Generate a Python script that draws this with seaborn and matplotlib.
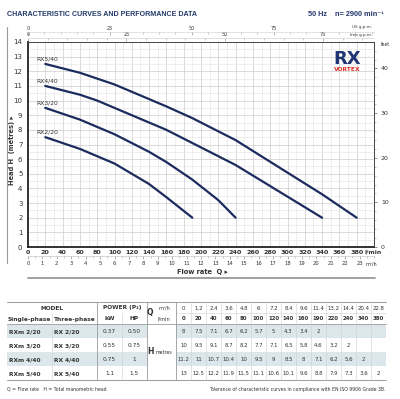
import numpy as np
import pandas as pd
import matplotlib
matplotlib.use("Agg")
import matplotlib.pyplot as plt
import seaborn as sns
from matplotlib.patches import Rectangle
from matplotlib.ticker import MultipleLocator, FixedLocator

# ---------------- data ----------------
q_lmin = [0, 20, 40, 60, 80, 100, 120, 140, 160, 190, 220, 240, 340, 380]
q_m3h = ["0", "1.2", "2.4", "3.6", "4.8", "6", "7.2", "8.4", "9.6", "11.4", "13.2", "14.4", "20.4", "22.8"]
models_single = ["RXm 2/20", "RXm 3/20", "RXm 4/40", "RXm 5/40"]
models_three = ["RX 2/20", "RX 3/20", "RX 4/40", "RX 5/40"]
curve_labels = ["RX2/20", "RX3/20", "RX4/40", "RX5/40"]
power_kw = ["0.37", "0.55", "0.75", "1.1"]
power_hp = ["0.50", "0.75", "1", "1.5"]
head_rx2_20 = [8, 7.5, 7.1, 6.7, 6.2, 5.7, 5, 4.3, 3.4, 2]
head_rx3_20 = [10, 9.5, 9.1, 8.7, 8.2, 7.7, 7.1, 6.5, 5.8, 4.6, 3.2, 2]
head_rx4_40 = [11.2, 11, 10.7, 10.4, 10, 9.5, 9, 8.5, 8, 7.1, 6.2, 5.6, 2]
head_rx5_40 = [13, 12.5, 12.2, 11.9, 11.5, 11.1, 10.6, 10.1, 9.6, 8.8, 7.9, 7.3, 3.6, 2]
heads = [head_rx2_20, head_rx3_20, head_rx4_40, head_rx5_40]
lmin_ticks = [0, 20, 40, 60, 80, 100, 120, 140, 160, 180, 200, 220, 240, 260, 280, 300, 320, 340, 360, 380]

rows = []
for lab, h in zip(curve_labels, heads):
    for q, v in zip(q_lmin[1:len(h)], h[1:]):
        rows.append({"model": lab, "Q": q, "H": v})
df = pd.DataFrame(rows)

# ---------------- style ----------------
sns.set_style("white")
plt.rcParams["font.family"] = ["DejaVu Sans"]
NAVY = "#1c2b5e"
TXT = "#333333"
GRID = "#cccccc"
GRIDM = "#e4e4e4"
NARROW = ["Liberation Sans Narrow", "Liberation Sans", "DejaVu Sans"]

W, H = 400, 399
fig = plt.figure(figsize=(W / 100, H / 100), dpi=100)

def fbox(x0, y0, x1, y1):
    return [x0 / W, 1 - y1 / H, (x1 - x0) / W, (y1 - y0) / H]

# overlay axes in pixel coords (drawn on top, no background)
ov = fig.add_axes([0, 0, 1, 1], zorder=5)
ov.set_xlim(0, W)
ov.set_ylim(H, 0)
ov.axis("off")

ax = fig.add_axes(fbox(28, 42, 374, 247), zorder=2)
ax.set_facecolor("white")
sns.lineplot(data=df, x="Q", y="H", hue="model", palette=[NAVY] * 4,
             estimator=None, sort=False, lw=1.6, legend=False, ax=ax)
ax.set_xlim(0, 400)
ax.set_ylim(0, 14)
ax.set_xlabel("")
ax.set_ylabel("")
ax.xaxis.set_major_locator(FixedLocator(lmin_ticks))
ax.xaxis.set_minor_locator(MultipleLocator(10))
ax.yaxis.set_major_locator(MultipleLocator(1))
ax.yaxis.set_minor_locator(MultipleLocator(0.5))
ax.grid(True, which="major", color=GRID, lw=0.5)
ax.grid(True, which="minor", color=GRIDM, lw=0.4)
ax.set_axisbelow(True)
ax.tick_params(axis="x", which="both", length=0, pad=2, labelsize=4.6, labelcolor=TXT)
ax.tick_params(axis="y", which="both", length=0, pad=4, labelsize=5, labelcolor=TXT)
for t in ax.get_xticklabels():
    t.set_fontweight("bold")
for s in ["left", "bottom"]:
    ax.spines[s].set_color("#222222")
    ax.spines[s].set_linewidth(1.3)
for s in ["top", "right"]:
    ax.spines[s].set_color("#444444")
    ax.spines[s].set_linewidth(0.7)

for lab, h in zip(curve_labels, heads):
    ax.text(10, h[1] + 0.35, lab, fontsize=4.3, color=TXT, ha="left", va="center")

# right feet axis
ax2 = ax.twinx()
ax2.set_ylim(0, 14 * 3.28084)
ax2.yaxis.set_major_locator(FixedLocator([0, 10, 20, 30, 40]))
ax2.yaxis.set_minor_locator(MultipleLocator(2))
ax2.tick_params(axis="y", which="major", length=2, width=0.5, color="#666", pad=3, labelsize=4.5, labelcolor=TXT)
ax2.tick_params(axis="y", which="minor", length=1.2, width=0.4, color="#888")
for s in ax2.spines.values():
    s.set_visible(False)
ov.text(381, 44, "feet", fontsize=3.3, color=TXT, ha="left", va="center")

# bottom m3/h axis
sec = ax.secondary_xaxis(-9 / 205, functions=(lambda q: q * 0.06, lambda m: m / 0.06))
sec.xaxis.set_major_locator(FixedLocator(list(range(0, 24))))
sec.xaxis.set_minor_locator(MultipleLocator(0.5))
sec.tick_params(axis="x", which="major", length=2, width=0.4, color="#777", pad=1.5, labelsize=3.8, labelcolor=TXT)
sec.tick_params(axis="x", which="minor", length=1.2, width=0.4, color="#999")
sec.spines["bottom"].set_color("#bbbbbb")
sec.spines["bottom"].set_linewidth(0.4)
ov.text(364.5, 252.5, "l/min", fontsize=4.3, fontweight="bold", color=TXT, ha="left", va="center")
ov.text(366, 264, "m³/h", fontsize=3.5, color=TXT, ha="left", va="center")

# top gpm axes
imp = ax.secondary_xaxis(1 + 4 / 205, functions=(lambda l: l / 4.54609, lambda g: g * 4.54609))
us = ax.secondary_xaxis(1 + 10 / 205, functions=(lambda l: l / 3.78541, lambda g: g * 3.78541))
for sa in (imp, us):
    sa.xaxis.set_major_locator(FixedLocator([0, 25, 50, 75]))
    sa.xaxis.set_minor_locator(MultipleLocator(5))
    sa.tick_params(axis="x", which="major", direction="in", length=2, width=0.4, color="#777", pad=1, labelsize=3.5, labelcolor=TXT)
    sa.tick_params(axis="x", which="minor", direction="in", length=1.4, width=0.4, color="#999")
    sa.spines["top"].set_color("#cccccc")
    sa.spines["top"].set_linewidth(0.4)
ov.text(372, 27, "US g.p.m.", fontsize=3, color=TXT, ha="right", va="center")
ov.text(372, 35, "Imp g.p.m.", fontsize=3, color=TXT, ha="right", va="center")

# titles and decorations
ov.text(7, 14.5, "CHARACTERISTIC CURVES AND PERFORMANCE DATA", fontsize=5.1, fontweight="bold",
        color="#24396b", ha="left", va="center", family=NARROW)
ov.text(384, 14.5, "50 Hz    n= 2900 min⁻¹", fontsize=5.3, fontweight="bold",
        color="#24396b", ha="right", va="center", family=NARROW)
ov.text(347.5, 59, "RX", fontsize=13, fontweight="bold", color="#1f3574", ha="center", va="center")
ov.text(347.5, 69.5, "VORTEX", fontsize=4.3, fontweight="bold", color="#d8332a", ha="center", va="center")
ov.text(12, 150, "Head H  (metres) ▸", fontsize=4.8, fontweight="bold", color=TXT,
        rotation=90, ha="center", va="center")
ov.plot([7, 7], [27, 263], color="#999999", lw=0.8)
ov.text(202, 272, "Flow rate  Q ▸", fontsize=4.8, fontweight="bold", color=TXT, ha="center", va="center")
ov.plot([28, 375], [277.5, 277.5], color="#999999", lw=1.3)

# ---------------- table ----------------
SHADE = "#dbe7ea"
LINE = "#9a9a9a"
LLINE = "#d0d0d0"
x_edges = [7, 52, 97, 122, 147, 176]
col_w = 15
n_cols = len(q_lmin)
x_right = x_edges[-1] + col_w * n_cols
y_top, y_mid, y_head = 302, 313, 324
row_h = 14
y_rows = [y_head + i * row_h for i in range(5)]
col_c = [x_edges[-1] + col_w * (i + 0.5) for i in range(n_cols)]
fs = 4.2

for i in (0, 2):
    ov.add_patch(Rectangle((x_edges[0], y_rows[i]), x_edges[4] - x_edges[0], row_h, color=SHADE, lw=0))
    ov.add_patch(Rectangle((x_edges[5], y_rows[i]), x_right - x_edges[5], row_h, color=SHADE, lw=0))

ov.plot([x_edges[0], x_right], [y_top, y_top], color=LINE, lw=0.7)
ov.plot([x_edges[0], x_right], [y_head, y_head], color=LINE, lw=0.6)
ov.plot([x_edges[0], x_right], [y_rows[-1], y_rows[-1]], color=LINE, lw=0.7)
ov.plot([x_edges[5], x_right], [y_mid, y_mid], color=LLINE, lw=0.4)
for xx in (x_edges[2], x_edges[4], x_edges[5]):
    ov.plot([xx, xx], [y_top, y_rows[-1]], color=LINE, lw=0.6)
for xx in (x_edges[1], x_edges[3]):
    ov.plot([xx, xx], [y_mid, y_rows[-1]], color=LLINE, lw=0.4)
for i in range(1, n_cols):
    xx = x_edges[5] + col_w * i
    ov.plot([xx, xx], [y_top, y_rows[-1]], color=LLINE, lw=0.4)

hy1 = (y_top + y_mid) / 2 + 0.5
hy2 = (y_mid + y_head) / 2 + 0.5
ov.text(52, hy1, "MODEL", fontsize=fs, fontweight="bold", color=TXT, ha="center", va="center")
ov.text(29.5, hy2, "Single-phase", fontsize=fs, fontweight="bold", color=TXT, ha="center", va="center")
ov.text(74.5, hy2, "Three-phase", fontsize=fs, fontweight="bold", color=TXT, ha="center", va="center")
ov.text(122, hy1, "POWER (P₂)", fontsize=fs, fontweight="bold", color=TXT, ha="center", va="center")
ov.text(109.5, hy2, "kW", fontsize=fs, fontweight="bold", color=TXT, ha="center", va="center")
ov.text(134.5, hy2, "HP", fontsize=fs, fontweight="bold", color=TXT, ha="center", va="center")
ov.text(150, (y_top + y_head) / 2, "Q", fontsize=5.5, fontweight="bold", color=TXT, ha="center", va="center")
ov.text(164, hy1, "m³/h", fontsize=3.6, color=TXT, ha="center", va="center")
ov.text(164, hy2, "l/min", fontsize=3.6, color=TXT, ha="center", va="center")
ov.text(150, (y_head + y_rows[-1]) / 2, "H", fontsize=5.5, fontweight="bold", color=TXT, ha="center", va="center")
ov.text(164, (y_head + y_rows[-1]) / 2, "metres", fontsize=3.4, color=TXT, ha="center", va="center")
for c, m, l in zip(col_c, q_m3h, q_lmin):
    ov.text(c, hy1, m, fontsize=3.9, color=TXT, ha="center", va="center")
    ov.text(c, hy2, str(l), fontsize=3.9, fontweight="bold", color=TXT, ha="center", va="center")

for i in range(4):
    yc = y_rows[i] + row_h / 2 + 0.5
    ov.text(9, yc, models_single[i], fontsize=fs, fontweight="bold", color=TXT, ha="left", va="center")
    ov.text(54, yc, models_three[i], fontsize=fs, fontweight="bold", color=TXT, ha="left", va="center")
    ov.text(109.5, yc, power_kw[i], fontsize=fs, color=TXT, ha="center", va="center")
    ov.text(134.5, yc, power_hp[i], fontsize=fs, color=TXT, ha="center", va="center")
    for c, v in zip(col_c, heads[i]):
        ov.text(c, yc, f"{v:g}", fontsize=3.9, color=TXT, ha="center", va="center")

ov.text(7, 389, "Q = Flow rate   H = Total manometric head", fontsize=3.3, color=TXT, ha="left", va="center")
ov.text(x_right, 389, "Tolerance of characteristic curves in compliance with EN ISO 9906 Grade 3B.",
        fontsize=3.3, color=TXT, ha="right", va="center")

fig.savefig("out.png", dpi=100)
